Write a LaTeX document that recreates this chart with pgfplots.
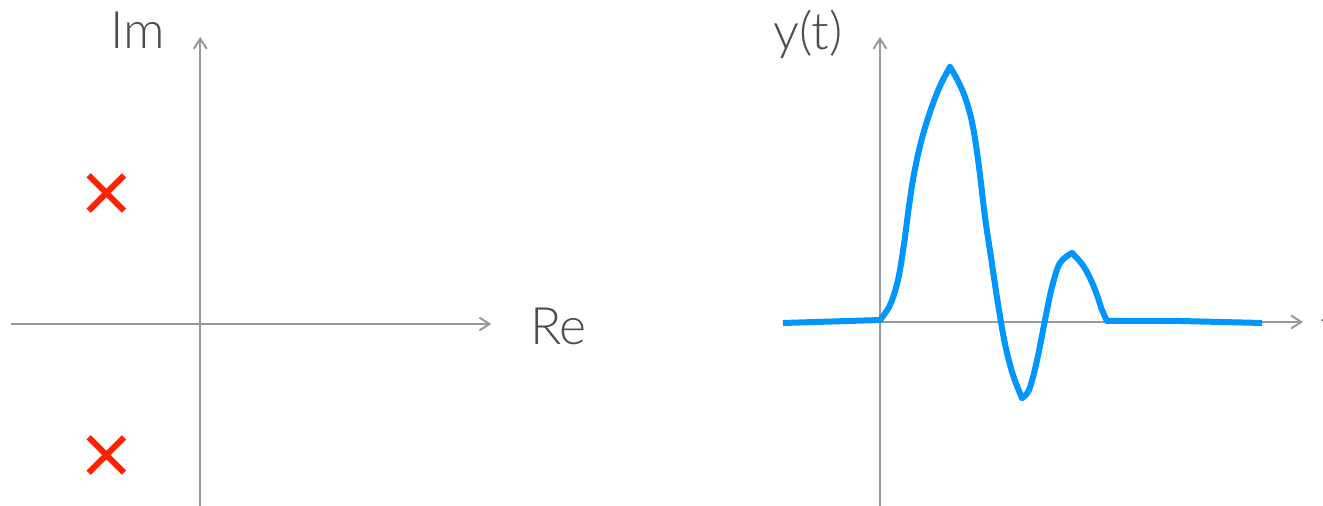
\documentclass[border=0pt]{standalone}
\usepackage{pgfplots}
\pgfplotsset{compat=1.18}
\usetikzlibrary{arrows.meta}
\usepackage{fontspec}
\setmainfont{Lato}[UprightFont=* Light]

\definecolor{axisgray}{RGB}{153,153,153}
\definecolor{labelgray}{RGB}{78,78,78}
\definecolor{polered}{RGB}{255,34,0}
\definecolor{respblue}{RGB}{0,150,255}

\pgfplotsset{
  sketchaxis/.style={
    scale only axis,
    axis lines=middle,
    axis line style={draw=axisgray, line width=2pt,
      -{Straight Barb[length=10pt,width=13pt]}},
    xtick=\empty, ytick=\empty,
    clip=false,
  },
  resp/.style={respblue, line width=6pt, line join=round},
  lobe/.style={resp, smooth, tension=0.6, line cap=round},
}

\begin{document}
\begin{tikzpicture}[x=1pt,y=1pt]
\useasboundingbox (0,0) rectangle (1323,506);
\clip (0,0) rectangle (1323,506);

% s-plane: a complex-conjugate pole pair
\begin{axis}[sketchaxis,
  at={(12,0)}, anchor=south west,
  width=480pt, height=469pt,
  xmin=-2.011, xmax=3.096,
  ymin=-1.389, ymax=2.191]
\addplot[only marks, mark=x, mark size=25pt,
  mark options={draw=polered, line width=6pt}]
  coordinates {(-1,1) (-1,-1)};
\end{axis}

% time response: flat, main lobe, undershoot, second lobe, flat
\begin{axis}[sketchaxis,
  at={(783,0)}, anchor=south west,
  width=520pt, height=469pt,
  xmin=-0.97, xmax=4.23,
  ymin=-1.84, ymax=2.85]
\addplot[resp] coordinates {(-0.97,-0.01) (0,0.02)};
\addplot[lobe] coordinates {
  (0,0.02) (0.10,0.17) (0.18,0.42) (0.24,0.78) (0.29,1.16) (0.34,1.48)
  (0.41,1.80) (0.50,2.10) (0.60,2.36) (0.70,2.55)};
\addplot[lobe] coordinates {
  (0.70,2.55) (0.78,2.41) (0.86,2.22) (0.93,1.95) (0.99,1.55) (1.05,1.05)
  (1.12,0.58) (1.18,0.18) (1.25,-0.22) (1.33,-0.53) (1.42,-0.76)};
\addplot[lobe] coordinates {
  (1.42,-0.76) (1.48,-0.70) (1.53,-0.55) (1.59,-0.29) (1.65,0.02)
  (1.72,0.35) (1.80,0.59) (1.92,0.69)};
\addplot[lobe] coordinates {
  (1.92,0.69) (2.02,0.58) (2.10,0.44) (2.17,0.27) (2.22,0.12) (2.27,0.01)};
\addplot[resp] coordinates {(2.27,0.01) (3.00,0.01) (3.82,-0.01)};
\end{axis}

% axis names
\begin{scope}[every node/.style={inner sep=0pt, anchor=base west,
    text=labelgray, font=\fontsize{51.6}{52}\selectfont}]
\node at (110,457) {Im};
\node at (530,161) {Re};
\node at (773,456) {y(t)};
\node at (1320,161) {t};
\end{scope}
\end{tikzpicture}
\end{document}
